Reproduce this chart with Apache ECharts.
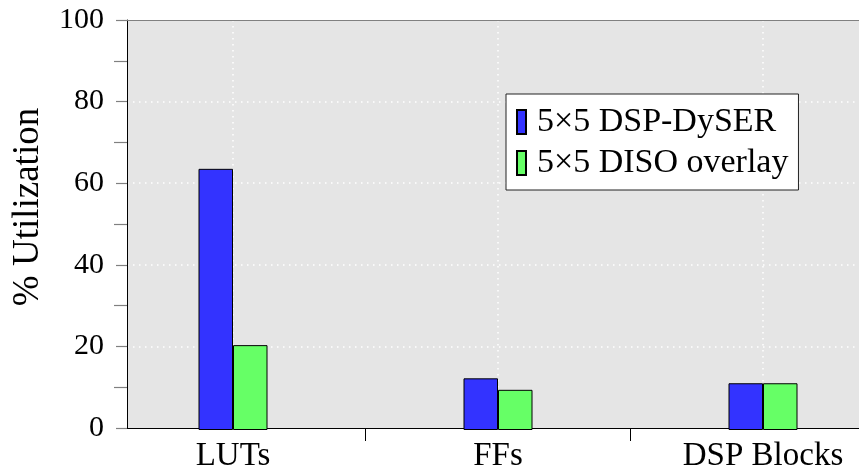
<!DOCTYPE html>
<html><head><meta charset="utf-8">
<script src="https://cdn.jsdelivr.net/npm/echarts@6/dist/echarts.min.js"></script>
<style>html,body{margin:0;padding:0;background:#fff}#c{width:859px;height:473px}</style>
</head><body><div id="c"></div>
<script>
const categories = ['LUTs', 'FFs', 'DSP Blocks'];
const dyser = [63.7, 12.6, 11.4];
const diso = [20.7, 9.8, 11.4];
const seriesNames = ['5×5 DSP-DySER', '5×5 DISO overlay'];
const yTicks = [0, 20, 40, 60, 80, 100];

const font = 'Liberation Serif';
const chart = echarts.init(document.getElementById('c'), null, {renderer: 'canvas'});
const dotted = {color: '#ffffff', width: 1.5, type: [1.5, 4.5]};
chart.setOption({
  animation: false,
  backgroundColor: '#ffffff',
  grid: [
    {left: 127, top: 20, width: 732, height: 410, show: true, backgroundColor: '#e5e5e5', borderWidth: 0, containLabel: false},
    {left: 233, top: 20, width: 530, height: 410, show: false, containLabel: false}
  ],
  legend: {
    orient: 'vertical', left: 506, top: 94, data: seriesNames,
    backgroundColor: '#ffffff', borderColor: '#222', borderWidth: 1, borderRadius: 0,
    padding: [11, 10, 10, 10], itemGap: 7, itemWidth: 9, itemHeight: 24, icon: 'rect',
    textStyle: {fontFamily: font, fontSize: 34, lineHeight: 34, color: '#000', padding: [0, 0, 0, 6]}
  },
  xAxis: [
    {type: 'value', gridIndex: 0, min: -0.4, max: 2.3623,
     axisLine: {show: true, onZero: false, lineStyle: {color: '#000', width: 1}},
     axisTick: {show: true, customValues: [0.5, 1.5], length: 13, lineStyle: {color: '#000'}},
     axisLabel: {show: true, customValues: [0, 1, 2], formatter: v => categories[Math.round(v)], fontFamily: font, fontSize: 33, color: '#000', margin: 12},
     splitLine: {show: false}},
    {type: 'category', gridIndex: 1, data: categories, boundaryGap: false,
     axisLine: {show: false, onZero: false}, axisTick: {show: false}, axisLabel: {show: false},
     splitLine: {show: true, interval: 0, lineStyle: dotted}},
    {type: 'value', gridIndex: 0, position: 'top', min: 0, max: 1,
     axisLine: {show: true, onZero: false, lineStyle: {color: '#808080', width: 1.2}},
     axisTick: {show: false}, axisLabel: {show: false}, splitLine: {show: false}}
  ],
  yAxis: [
    {type: 'value', gridIndex: 0, min: 0, max: 100, interval: 20, position: 'left',
     name: '% Utilization', nameLocation: 'middle', nameGap: 80,
     nameTextStyle: {fontFamily: font, fontSize: 37, color: '#000', padding: [0, 0, 0, 34]},
     axisLine: {show: true, onZero: false, lineStyle: {color: '#000', width: 1}},
     axisTick: {show: true, length: 11, lineStyle: {color: '#808080', width: 1.2}},
     minorTick: {show: true, splitNumber: 2, length: 13, lineStyle: {color: '#808080', width: 1.2}},
     axisLabel: {fontFamily: font, fontSize: 30, color: '#000', margin: 23, customValues: yTicks},
     splitLine: {show: true, showMaxLine: false, showMinLine: false, lineStyle: dotted}},
    {type: 'value', gridIndex: 1, min: 0, max: 100, show: false,
     axisLine: {show: false, onZero: false}, axisTick: {show: false}, axisLabel: {show: false}, splitLine: {show: false}}
  ],
  series: [
    {name: seriesNames[0], type: 'bar', xAxisIndex: 1, yAxisIndex: 1, data: dyser, barWidth: 34.5, barGap: '0%',
     itemStyle: {color: '#3333ff', borderColor: '#000', borderWidth: 1}},
    {name: seriesNames[1], type: 'bar', xAxisIndex: 1, yAxisIndex: 1, data: diso, barWidth: 34.5, barGap: '0%',
     itemStyle: {color: '#66ff66', borderColor: '#000', borderWidth: 1}}
  ]
});
</script></body></html>
